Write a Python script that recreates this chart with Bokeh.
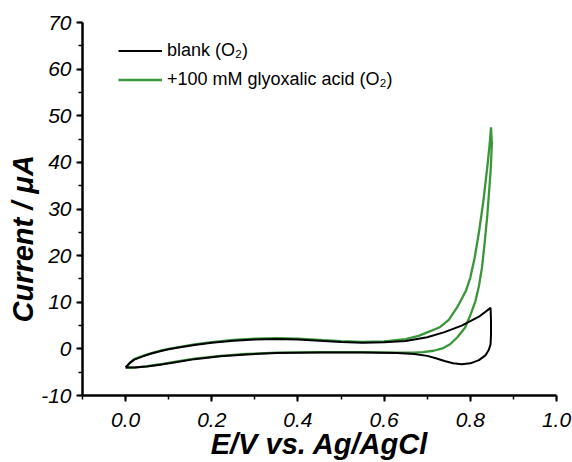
from bokeh.plotting import figure
from bokeh.models import Range1d, SingleIntervalTicker, PrintfTickFormatter, Legend, LegendItem, Title
from bokeh.embed import file_html
from bokeh.resources import INLINE

# Blank (O2) cyclic voltammogram: forward then reverse scan
blank_E = [0.00, 0.01, 0.02, 0.04, 0.06, 0.08, 0.10, 0.13, 0.16, 0.20, 0.25, 0.30, 0.35, 0.40,
           0.45, 0.50, 0.55, 0.60, 0.65, 0.70, 0.74, 0.78, 0.82, 0.847,
           0.848, 0.848, 0.847, 0.843, 0.835, 0.82, 0.80, 0.78, 0.76, 0.74, 0.72, 0.70, 0.67,
           0.63, 0.55, 0.45, 0.35, 0.28, 0.22, 0.16, 0.12, 0.08, 0.05, 0.02, 0.00]
blank_I = [-4.0, -3.0, -2.3, -1.6, -1.0, -0.5, -0.1, 0.4, 0.85, 1.3, 1.75, 2.0, 2.1, 2.0,
           1.75, 1.45, 1.3, 1.4, 1.7, 2.5, 3.6, 5.0, 6.9, 8.8,
           6.0, 3.0, 1.0, -0.2, -1.4, -2.4, -3.1, -3.3, -3.1, -2.6, -2.0, -1.5, -1.1,
           -0.9, -0.8, -0.8, -0.9, -1.2, -1.6, -2.2, -2.8, -3.4, -3.8, -4.0, -4.0]

# +100 mM glyoxalic acid (O2)
acid_E = [0.00, 0.01, 0.02, 0.04, 0.06, 0.08, 0.10, 0.13, 0.16, 0.20, 0.25, 0.30, 0.35, 0.40,
          0.45, 0.50, 0.55, 0.60, 0.65, 0.68, 0.71, 0.73, 0.75, 0.77, 0.79, 0.80, 0.81, 0.82,
          0.83, 0.84, 0.845, 0.848,
          0.850, 0.847, 0.843, 0.839, 0.833, 0.827, 0.82, 0.812, 0.80, 0.788, 0.77, 0.753,
          0.735, 0.715, 0.69, 0.668, 0.63, 0.55, 0.45, 0.35, 0.28, 0.22, 0.16, 0.12, 0.08,
          0.05, 0.02, 0.00]
acid_I = [-4.0, -3.0, -2.2, -1.5, -0.9, -0.4, 0.0, 0.5, 0.95, 1.45, 1.9, 2.2, 2.3, 2.2,
          1.95, 1.65, 1.5, 1.6, 2.1, 2.8, 3.9, 4.7, 6.2, 9.0, 12.5, 15.3, 19.5, 25.0,
          31.5, 39.5, 44.0, 47.5,
          44.0, 38.0, 33.0, 28.2, 22.5, 17.4, 13.5, 10.3, 7.2, 4.6, 2.5, 1.0,
          0.1, -0.4, -0.7, -0.8, -0.8, -0.7, -0.7, -0.8, -1.1, -1.5, -2.1, -2.7, -3.3,
          -3.7, -4.0, -4.0]

labels = ["blank (O\u2082)", "+100 mM glyoxalic acid (O\u2082)"]
colors = ["black", "#3a963a"]
x_title = "E/V vs. Ag/AgCl"
y_title = "Current / \u03bcA"

FONT = "Liberation Sans"

p = figure(width=572, height=462, output_backend="svg", toolbar_location=None,
           x_range=Range1d(-0.1, 1.0), y_range=Range1d(-10, 70),
           min_border_left=82, min_border_right=16, min_border_top=22, min_border_bottom=67)
p.outline_line_color = None
p.xgrid.visible = False
p.ygrid.visible = False
p.background_fill_color = "white"
p.border_fill_color = "white"

g_acid = p.line(acid_E, acid_I, line_color=colors[1], line_width=2.3)
g_blank = p.line(blank_E, blank_I, line_color=colors[0], line_width=2)

for ax in (p.xaxis[0], p.yaxis[0]):
    ax.axis_line_width = 2.5
    ax.axis_line_color = "black"
    ax.major_tick_line_width = 2
    ax.minor_tick_line_width = 1.5
    ax.major_tick_in = 0
    ax.major_tick_out = 6
    ax.minor_tick_in = 0
    ax.minor_tick_out = 4
    ax.major_label_text_font = FONT
    ax.major_label_text_font_style = "italic"
    ax.major_label_text_font_size = "21px"
    ax.major_label_text_color = "black"
    ax.axis_label_text_font = FONT
    ax.axis_label_text_font_style = "bold italic"
    ax.axis_label_text_font_size = "29px"
    ax.axis_label_text_color = "black"

p.xaxis.ticker = SingleIntervalTicker(interval=0.2, num_minor_ticks=2)
p.xaxis.formatter = PrintfTickFormatter(format="%.1f")
p.xaxis.axis_label = x_title
p.xaxis.major_label_standoff = 11
p.xaxis.axis_label_standoff = -2

p.yaxis.ticker = SingleIntervalTicker(interval=10, num_minor_ticks=2)
p.yaxis.formatter = PrintfTickFormatter(format="%d")
p.yaxis.major_label_standoff = 5

ytitle = Title(text=y_title, align="left", offset=73, standoff=0,
               text_font=FONT, text_font_style="bold italic", text_font_size="29px",
               text_color="black")
p.add_layout(ytitle, "left")

legend = Legend(items=[LegendItem(label=labels[0], renderers=[g_blank]),
                       LegendItem(label=labels[1], renderers=[g_acid])],
                location=(36, 301), orientation="vertical")
legend.border_line_alpha = 0
legend.background_fill_alpha = 0
legend.padding = 0
legend.margin = 0
legend.spacing = 0
legend.glyph_width = 44
legend.glyph_height = 29
legend.label_height = 29
legend.label_standoff = 5
legend.label_text_font = FONT
legend.label_text_font_size = "18px"
legend.label_text_color = "black"
p.add_layout(legend)

open("out.html", "w").write(file_html(p, INLINE))
